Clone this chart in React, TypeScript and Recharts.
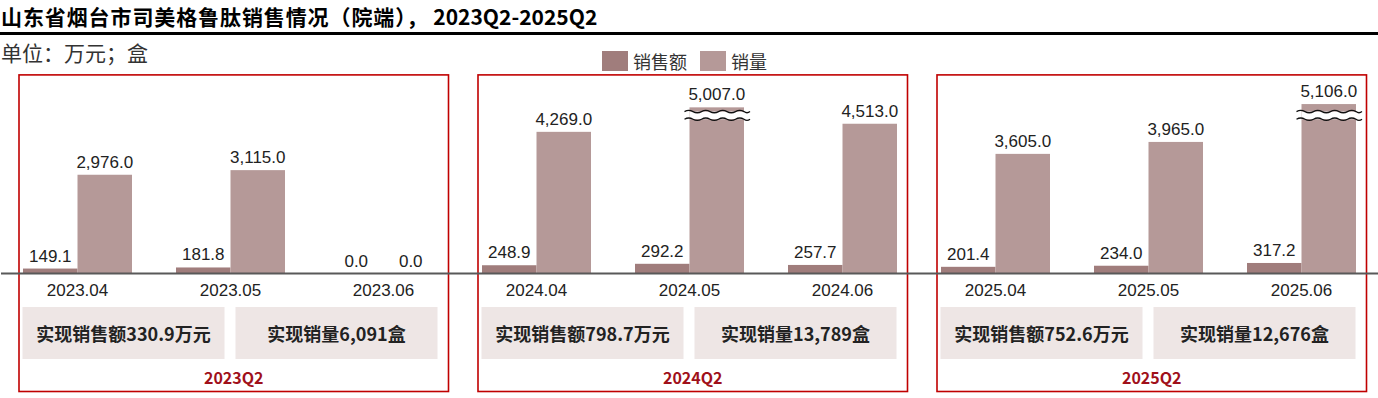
import React from 'react';
import { BarChart, Bar, XAxis, YAxis, LabelList, ReferenceArea, Legend } from 'recharts';

const months = ['2023.04', '2023.05', '2023.06', '2024.04', '2024.05', '2024.06', '2025.04', '2025.05', '2025.06'];
const salesAmount = [149.1, 181.8, 0, 248.9, 292.2, 257.7, 201.4, 234.0, 317.2];
const salesVolume = [2976, 3115, 0, 4269, 5007, 4513, 3605, 3965, 5106];
const brokenMonths = ['2024.05', '2025.06'];

const quarters = ['2023Q2', '2024Q2', '2025Q2'];
const quarterFirstMonth = ['2023.04', '2024.04', '2025.04'];
const quarterLastMonth = ['2023.06', '2024.06', '2025.06'];
const quarterSalesTotal = ['330.9', '798.7', '752.6'];
const quarterVolumeTotal = ['6,091', '13,789', '12,676'];

const seriesNames = ['销售额', '销量'];
const seriesColors = ['#A07D7C', '#B59998'];

const titleCjk = '山东省烟台市司美格鲁肽销售情况（院端），';
const titleLatin = ' 2023Q2-2025Q2';
const unitText = '单位：万元；盒';

const data = months.map((m, i) => ({ month: m, amount: salesAmount[i], volume: salesVolume[i] }));

const NUM_FONT = "'Liberation Sans', Arial, 'Noto Sans CJK SC', sans-serif";
const CJK_FONT = "'Noto Sans CJK SC', 'Liberation Sans', sans-serif";

const BREAK_UPPER = 4880;
const BREAK_LOWER = 4650;

const fmt = (v: any) =>
  Number(v).toLocaleString('en-US', { minimumFractionDigits: 1, maximumFractionDigits: 1 });

function wavePath(x0: number, x1: number, y: number, amp: number, period: number) {
  let d = `M${x0},${y}`;
  const half = period / 2;
  let x = x0;
  let sign = -1;
  while (x < x1 - 0.01) {
    const nx = Math.min(x + half, x1);
    d += ` Q${(x + nx) / 2},${y + sign * amp * 2} ${nx},${y}`;
    x = nx;
    sign = -sign;
  }
  return d;
}

const AmountShape = (props: any) => {
  const { x, y, width, height, fill } = props;
  if (!(height > 0)) return <g />;
  return <rect x={x} y={y} width={width} height={height} fill={fill} />;
};

const VolumeShape = (props: any) => {
  const { x, y, width, height, fill, payload } = props;
  if (!(height > 0)) return <g />;
  const broken = payload && brokenMonths.includes(payload.month);
  const els: any[] = [<rect key="r" x={x} y={y} width={width} height={height} fill={fill} />];
  if (broken) {
    const ppu = height / payload.volume;
    const base = y + height;
    const yU = base - BREAK_UPPER * ppu;
    const yL = base - BREAK_LOWER * ppu;
    const xa = x - 5;
    const xb = x + width + 6;
    const top = wavePath(xa, xb, yU, 1.2, 17);
    const bot = wavePath(xa, xb, yL, 1.2, 17);
    els.push(<rect key="w" x={x} y={yU} width={width} height={yL - yU} fill="#fff" />);
    els.push(<path key="t" d={top} stroke="#111" strokeWidth={1.3} fill="none" />);
    els.push(<path key="b" d={bot} stroke="#111" strokeWidth={1.3} fill="none" />);
  }
  return <g>{els}</g>;
};

const makeQuarterShape = (qi: number) => (props: any) => {
  const { x, y, width, height } = props;
  const band = width / 3;
  const c1 = x + band / 2;
  const c2 = x + band * 1.5;
  const c3 = x + band * 2.5;
  const base = y + height;
  const frameLeft = x + 18;
  const frameRight = x + width - 11.5;
  const frameTop = y + 0.5;
  const frameBottom = base + 118;
  const boxTop = base + 33.5;
  const boxH = 52;
  const b1x = c1 - 55;
  const b1r = c2 - 6;
  const b2x = c2 + 5;
  const b2r = c3 + 54;
  return (
    <g>
      <rect x={frameLeft} y={frameTop} width={frameRight - frameLeft} height={frameBottom - frameTop} fill="none" stroke="#C00000" strokeWidth={1.6} />
      <rect x={b1x} y={boxTop} width={b1r - b1x} height={boxH} fill="#EEE6E5" />
      <rect x={b2x} y={boxTop} width={b2r - b2x} height={boxH} fill="#EEE6E5" />
      <text x={(b1x + b1r) / 2} y={boxTop + boxH / 2} textAnchor="middle" dominantBaseline="central" fontFamily={CJK_FONT} fontWeight={700} fontSize={18} fill="#222">
        {`实现销售额${quarterSalesTotal[qi]}万元`}
      </text>
      <text x={(b2x + b2r) / 2} y={boxTop + boxH / 2} textAnchor="middle" dominantBaseline="central" fontFamily={CJK_FONT} fontWeight={700} fontSize={18} fill="#222">
        {`实现销量${quarterVolumeTotal[qi]}盒`}
      </text>
      <text x={(frameLeft + frameRight) / 2} y={base + 103} textAnchor="middle" dominantBaseline="central" fontFamily={CJK_FONT} fontWeight={700} fontSize={16} fill="#A0101A">
        {quarters[qi]}
      </text>
    </g>
  );
};

const renderLegend = () => (
  <div style={{ display: 'flex', alignItems: 'center', height: 22, fontFamily: CJK_FONT, fontSize: 18, color: '#333', whiteSpace: 'nowrap' }}>
    {seriesNames.map((n, i) => (
      <div key={n} style={{ display: 'flex', alignItems: 'center', marginRight: 13 }}>
        <div style={{ width: 26, height: 20, background: seriesColors[i], marginRight: 5 }} />
        <span style={{ lineHeight: '20px' }}>{n}</span>
      </div>
    ))}
  </div>
);

export default function App() {
  return (
    <div style={{ position: 'absolute', left: 0, top: 0, width: 1378, height: 398, overflow: 'hidden', background: '#fff' }}>
      <div style={{ position: 'absolute', left: 1, top: 4, fontFamily: CJK_FONT, fontWeight: 700, fontSize: 21, lineHeight: '24px', color: '#000', whiteSpace: 'nowrap' }}>
        <span style={{ letterSpacing: 0.9 }}>{titleCjk}</span>
        <span>{titleLatin}</span>
      </div>
      <div style={{ position: 'absolute', left: 0, top: 32, width: 1378, height: 3, background: '#000' }} />
      <div style={{ position: 'absolute', left: 1, top: 40, fontFamily: CJK_FONT, fontSize: 21, lineHeight: '24px', color: '#333', whiteSpace: 'nowrap' }}>
        {unitText}
      </div>
      <div style={{ position: 'absolute', left: 0, top: 0 }}>
        <BarChart width={1378} height={398} data={data} margin={{ top: 74.4, right: 0, bottom: 94.5, left: 1 }} barGap={0} barSize={54.5}>
          <XAxis
            dataKey="month"
            interval={0}
            tickLine={false}
            tickSize={0}
            tickMargin={10}
            axisLine={{ stroke: '#595959', strokeWidth: 2 }}
            tick={{ fill: '#222', fontSize: 17, fontFamily: NUM_FONT }}
          />
          <YAxis hide domain={[0, 6000]} />
          <Legend layout="horizontal" verticalAlign="middle" align="center" wrapperStyle={{ top: 50, left: 602, width: 220, height: 22 }} content={renderLegend} />
          {quarters.map((q, qi) => (
            <ReferenceArea key={q} x1={quarterFirstMonth[qi]} x2={quarterLastMonth[qi]} shape={makeQuarterShape(qi)} />
          ))}
          <Bar dataKey="amount" name={seriesNames[0]} fill={seriesColors[0]} isAnimationActive={false} shape={AmountShape}>
            <LabelList dataKey="amount" position="top" offset={7} formatter={fmt} fill="#222" fontSize={17} fontFamily={NUM_FONT} />
          </Bar>
          <Bar dataKey="volume" name={seriesNames[1]} fill={seriesColors[1]} isAnimationActive={false} shape={VolumeShape}>
            <LabelList dataKey="volume" position="top" offset={7} formatter={fmt} fill="#222" fontSize={17} fontFamily={NUM_FONT} />
          </Bar>
        </BarChart>
      </div>
    </div>
  );
}
